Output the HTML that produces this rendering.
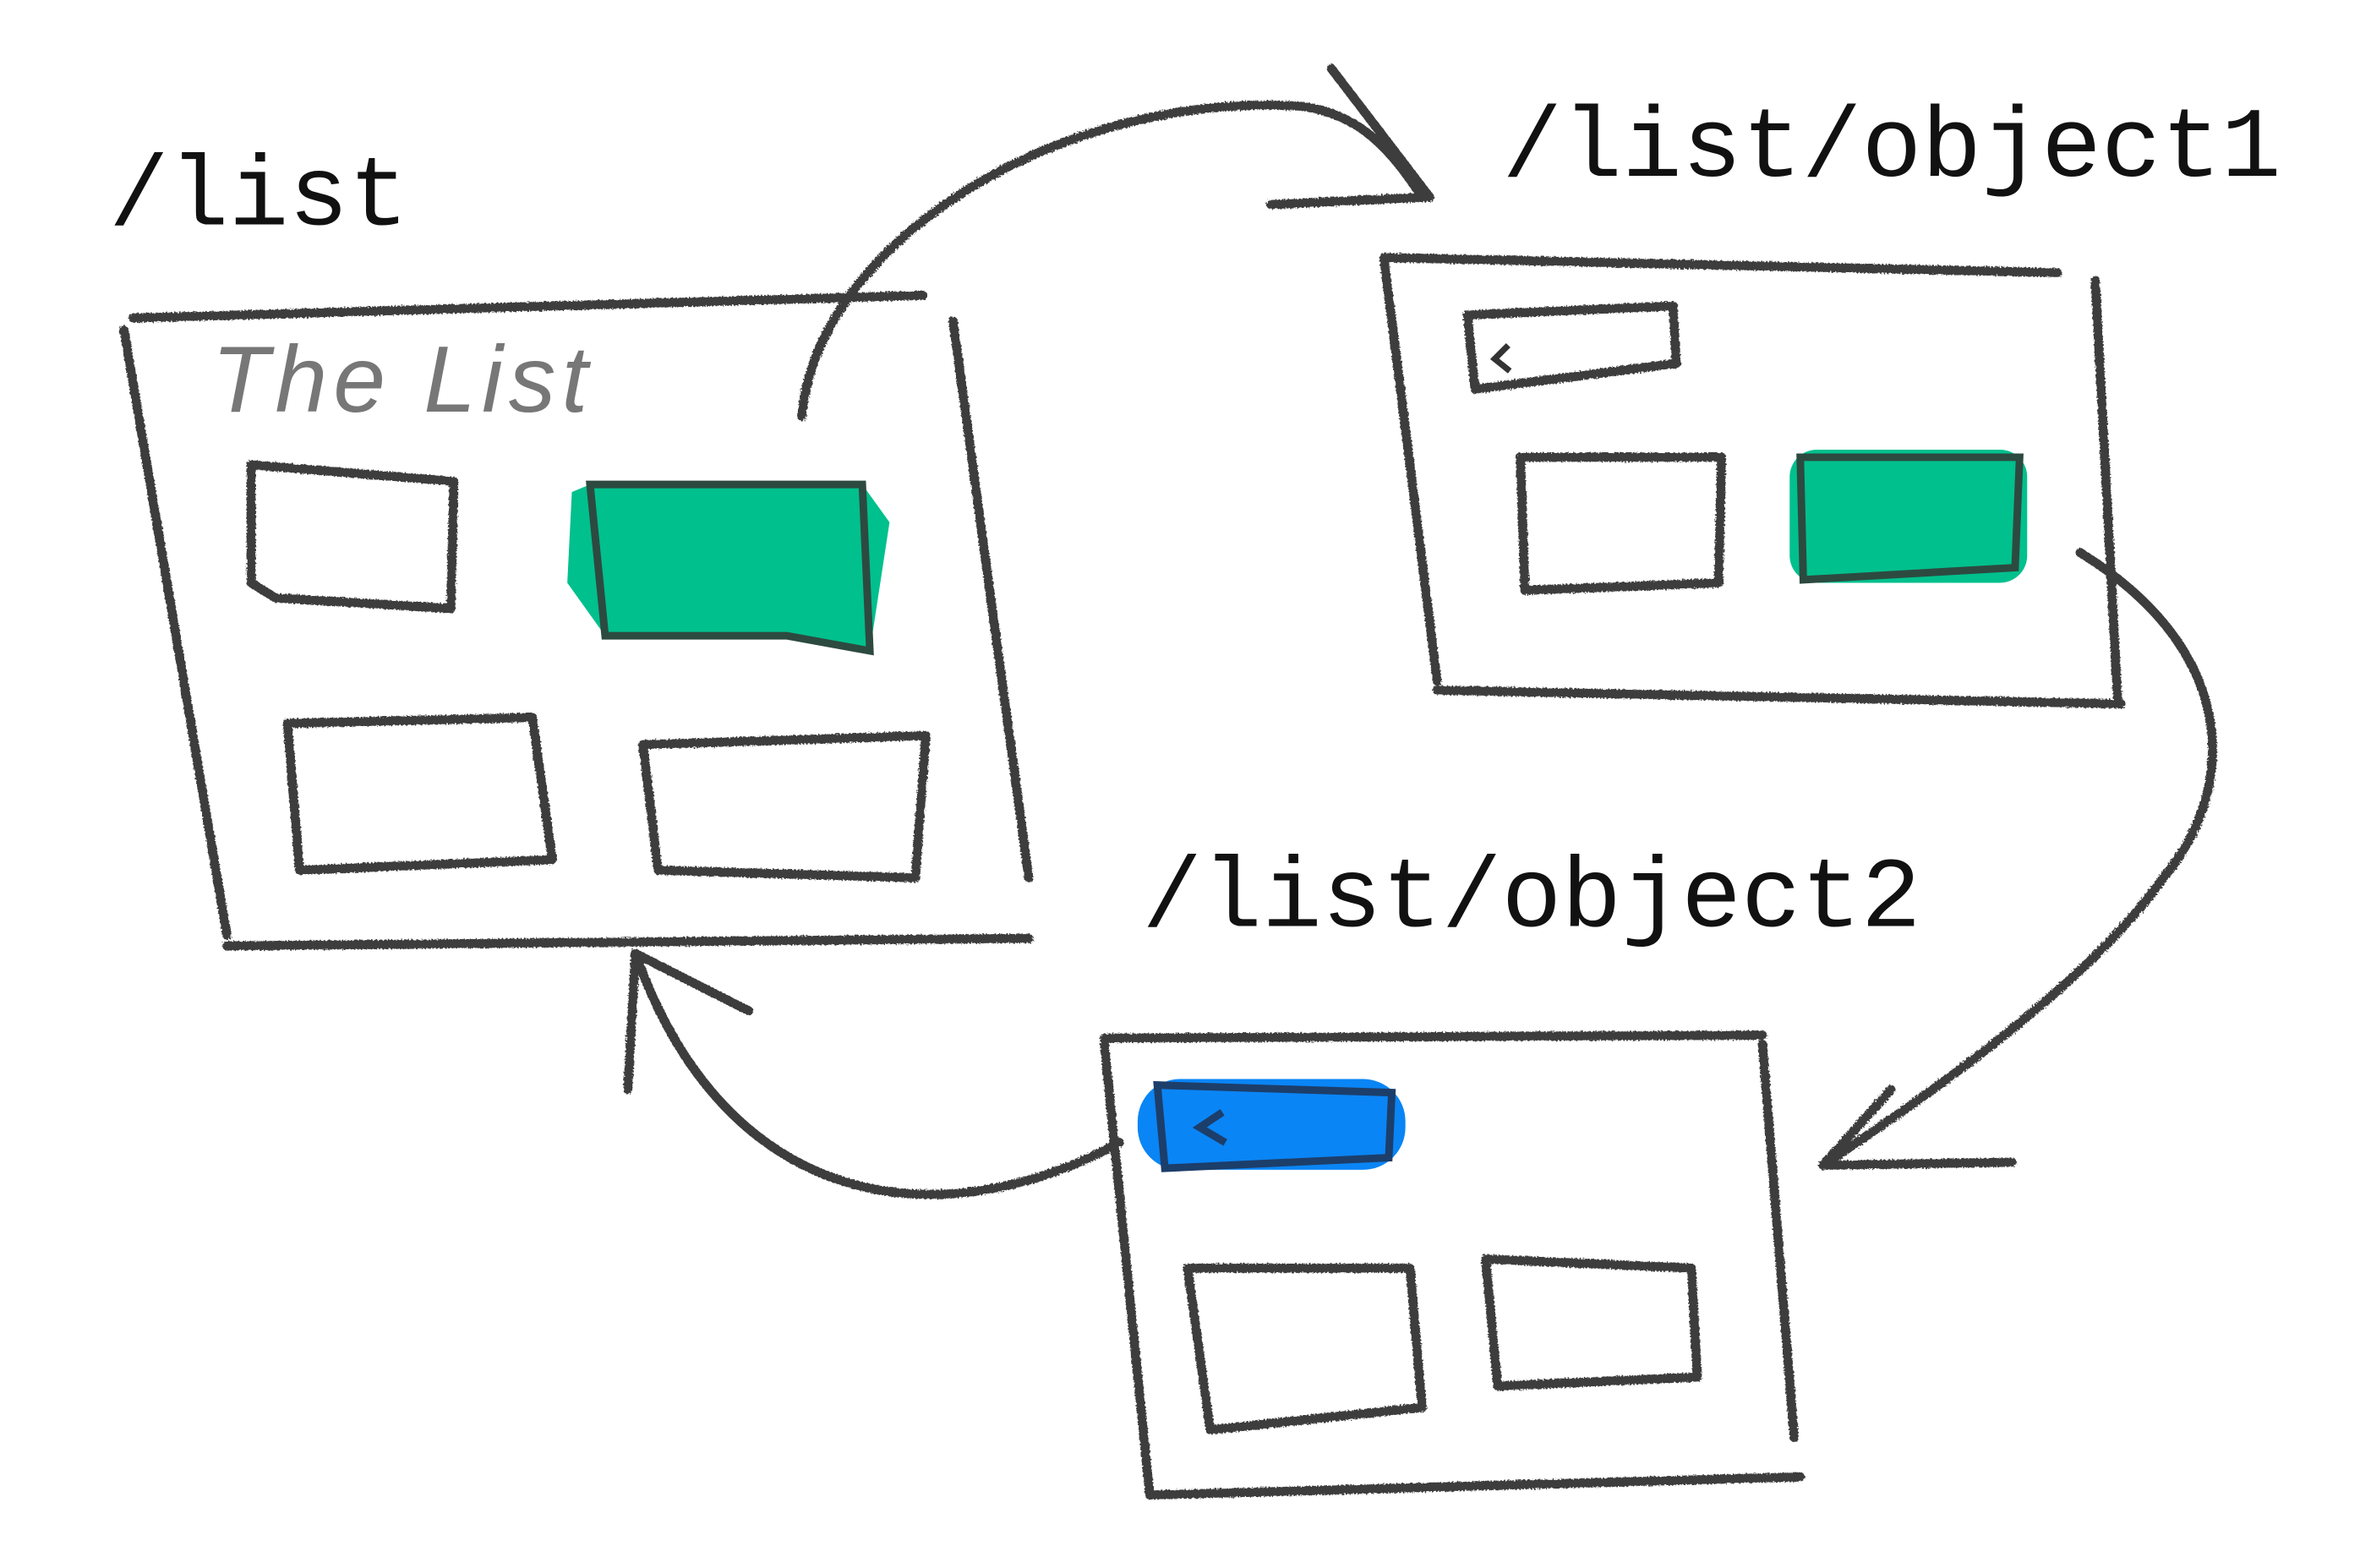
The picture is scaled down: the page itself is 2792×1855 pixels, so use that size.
<!DOCTYPE html>
<html><head><meta charset="utf-8"><style>
html,body{margin:0;padding:0;background:#fff;}
svg{display:block}
</style></head><body>
<svg width="2792" height="1855" viewBox="0 0 1560 1036" xmlns="http://www.w3.org/2000/svg">
<defs>
<filter id="r"><feTurbulence type="fractalNoise" baseFrequency="0.9" numOctaves="1" result="n"/><feDisplacementMap in="SourceGraphic" in2="n" scale="3"/></filter>
</defs>
<g font-family="Liberation Mono, monospace" font-size="66" fill="#111">
<text x="72" y="148">/list</text>
<text x="993" y="116">/list/object1</text>
<text x="755" y="612">/list/object2</text>
</g>
<g fill="none" stroke="#3e3e3e" stroke-width="6" stroke-linecap="round" stroke-linejoin="round" filter="url(#r)">
<!-- box1 -->
<path d="M88 210 L610 195 M82 218 L150 618 M150 625 L680 620 M630 212 L680 580"/>
<path d="M166 307 L300 318 L298 402 L182 395 L166 385 Z"/>
<path d="M190 478 L352 474 L365 568 L198 575 Z"/>
<path d="M425 492 L612 486 L605 580 L435 575 Z"/>
<!-- box2 -->
<path d="M915 170 L1360 180 M915 172 L950 450 M950 456 L1402 465 M1385 185 L1400 465"/>
<path d="M970 208 L1106 202 L1108 240 L975 257 Z"/>
<path d="M1005 302 L1138 302 L1136 385 L1008 390 Z"/>
<!-- box3 -->
<path d="M730 686 L1165 684 M730 690 L760 988 M760 988 L1190 976 M1165 690 L1186 950"/>
<path d="M785 838 L932 838 L940 930 L800 945 Z"/>
<path d="M982 832 L1118 838 L1122 910 L990 916 Z"/>
<!-- arrows -->
<path d="M530 275 C540 160 700 60 860 70 C900 75 920 100 940 130"/>
<path d="M880 45 L945 130 L840 135"/>
<path d="M1375 365 C1480 430 1480 520 1430 580 C1380 650 1280 720 1205 770"/>
<path d="M1250 720 L1205 770 L1330 768"/>
<path d="M740 755 C620 820 480 800 420 630"/>
<path d="M415 720 L420 630 L495 668"/>
</g>
<!-- colored blocks -->
<path d="M390 320 L570 320 L588 345 L575 430 L520 420 L400 420 L375 385 L378 325 Z" fill="#00c08d"/>
<path d="M390 320 L570 320 L575 430 L520 420 L400 420 Z" fill="none" stroke="#2d4a40" stroke-width="5"/>
<rect x="1183" y="297" width="157" height="88" rx="18" fill="#00c08d"/>
<path d="M1190 302 L1335 302 L1332 375 L1192 383 Z" fill="none" stroke="#2d4a40" stroke-width="5"/>
<rect x="752" y="713" width="177" height="60" rx="28" fill="#0a85f5"/>
<path d="M765 717 L920 722 L918 765 L770 772 Z" fill="none" stroke="#1c3e6a" stroke-width="5"/>
<path d="M808 735 L793 745 L810 755" fill="none" stroke="#1c3e6a" stroke-width="5"/>
<path d="M997 228 L988 237 L998 245" fill="none" stroke="#333" stroke-width="4"/>
<text x="140" y="272" font-family="Liberation Sans, sans-serif" font-size="62" fill="#777" letter-spacing="4" font-style="italic">The List</text>
</svg>
</body></html>
